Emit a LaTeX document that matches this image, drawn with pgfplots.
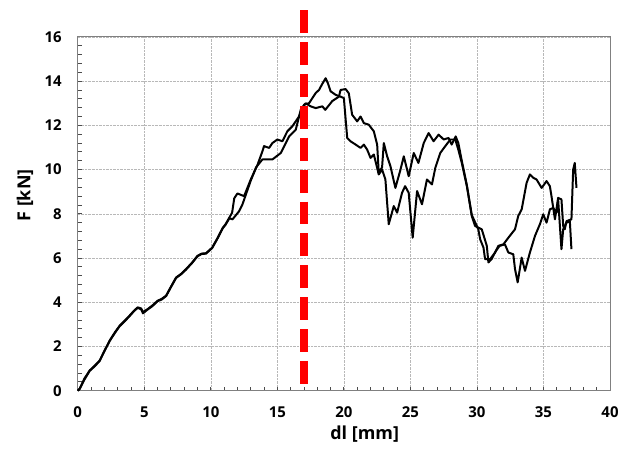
\documentclass[border=0pt]{standalone}
\usepackage{fontspec}
\setmainfont{Open Sans}
\usepackage{pgfplots}
\pgfplotsset{compat=1.18}
\begin{document}
\begin{tikzpicture}
\useasboundingbox (-78pt,-63pt) rectangle (543pt,392pt);
\begin{axis}[
  at={(0pt,0pt)}, anchor=south west,
  scale only axis,
  width=534pt, height=355pt,
  xmin=0, xmax=40, ymin=0, ymax=16,
  xtick={0,5,...,40}, ytick={0,2,...,16},
  minor x tick num=4, minor y tick num=4,
  xtick pos=left, ytick pos=left,
  tick align=inside,
  major tick length=4pt, minor tick length=4pt,
  tick style={black!70, line width=0.8pt},
  axis line style={black!50, line width=1pt},
  grid=major,
  major grid style={densely dotted, black!28, line width=0.6pt},
  /pgf/number format/assume math mode=true,
  ticklabel style={font=\fontsize{15}{17}\selectfont\bfseries},
  yticklabel style={anchor=east, inner sep=0pt, xshift=-16pt},
  xticklabel style={anchor=north, inner sep=0pt, yshift=-15.7pt},
  xlabel={dl [mm]}, ylabel={F [kN]},
  every axis x label/.style={at={(axis description cs:0.539,0)}, yshift=-44pt, anchor=center, font=\fontsize{18}{20}\selectfont\bfseries},
  every axis y label/.style={at={(axis description cs:0,0.552)}, xshift=-53pt, rotate=90, anchor=center, font=\fontsize{18}{20}\selectfont\bfseries},
  clip=false,
]
% curve A
\addplot[black, line width=2pt, line join=round] coordinates {
(0,0) (0.15,0.1) (0.5,0.55) (0.9,0.92) (1.3,1.15) (1.65,1.37) (2.0,1.8) (2.4,2.27) (2.8,2.65) (3.15,2.94) (3.5,3.15) (3.9,3.4) (4.2,3.6) (4.5,3.77) (4.77,3.72) (4.9,3.55) (5.27,3.7) (5.6,3.85) (6.0,4.07) (6.3,4.15) (6.64,4.3) (7.0,4.7) (7.39,5.12) (7.8,5.3) (8.14,5.5) (8.6,5.8) (9.0,6.1) (9.3,6.2) (9.64,6.22) (10.1,6.47) (10.5,6.9) (10.9,7.37) (11.1,7.52) (11.6,8.05)
(11.76,8.7) (12.0,8.92) (12.5,8.8) (13.0,9.55) (13.5,10.2) (13.88,10.83) (14.0,11.06) (14.38,10.98) (14.63,11.2) (15.0,11.36) (15.38,11.28) (15.75,11.73) (16.13,11.96) (16.63,12.4) (17.0,12.93) (17.38,13.0) (17.88,13.46) (18.13,13.6) (18.4,13.9) (18.63,14.13) (18.8,13.9) (19.0,13.54) (19.38,13.38) (19.75,13.3) (20.0,13.23) (20.1,12.5) (20.25,11.43) (20.5,11.28) (20.88,11.13) (21.25,10.98) (21.5,11.13) (21.75,10.9) (22.0,10.53) (22.25,10.68) (22.62,9.78) (22.87,10.0) (23.12,9.55) (23.37,7.53) (23.75,8.35) (24.0,8.05) (24.37,8.95) (24.6,9.25) (24.87,8.95) (25.17,6.92) (25.5,9.03) (25.87,8.43) (26.24,9.55) (26.62,9.33) (26.87,10.08) (27.24,10.75) (27.62,11.06) (28.0,11.36) (28.37,11.36) (28.6,10.9) (28.86,10.3) (29.24,9.25) (29.61,7.9) (29.86,7.45) (30.36,7.3) (30.74,6.55) (30.86,5.8) (31.1,5.95) (31.4,6.3) (31.7,6.55) (32.1,6.62) (32.36,6.25) (32.73,6.17) (32.86,5.5) (33.06,4.9) (33.36,6.02) (33.61,5.42) (33.98,6.25) (34.36,7.0) (34.73,7.53) (34.98,7.98) (35.23,7.6) (35.48,8.2) (35.73,8.27) (35.98,8.05) (36.1,8.65) (36.35,6.4) (36.48,7.3) (36.73,7.6) (36.98,7.67) (37.1,6.4)
};
% curve B
\addplot[black, line width=2pt, line join=round] coordinates {
(0,0) (0.15,0.08) (0.5,0.5) (0.9,0.9) (1.3,1.12) (1.65,1.35) (2.0,1.78) (2.4,2.25) (2.8,2.62) (3.15,2.92) (3.5,3.12) (3.9,3.38) (4.2,3.58) (4.5,3.75) (4.77,3.68) (4.9,3.5) (5.27,3.68) (5.6,3.82) (6.0,4.05) (6.3,4.12) (6.64,4.28) (7.0,4.68) (7.39,5.1) (7.8,5.28) (8.14,5.48) (8.6,5.78) (9.0,6.08) (9.3,6.18) (9.64,6.2) (10.1,6.45) (10.5,6.88) (10.9,7.35) (11.1,7.5) (11.4,7.8)
(11.63,7.75) (12.13,8.12) (12.38,8.43) (13.0,9.5) (13.4,10.1) (13.88,10.46) (14.63,10.46) (15.26,10.75) (15.88,11.5) (16.38,11.8) (16.76,12.71) (17.13,13.0) (17.5,12.86) (17.88,12.78) (18.38,12.86) (18.6,12.7) (19.13,13.1) (19.63,13.3) (19.75,13.6) (20.13,13.64) (20.37,13.45) (20.62,12.48) (21.0,12.18) (21.25,12.4) (21.5,12.1) (21.87,12.03) (22.25,11.73) (22.5,11.13) (22.62,9.85) (22.87,10.1) (23.0,11.2) (23.25,10.6) (23.5,10.15) (23.87,9.17) (24.25,9.99) (24.5,10.6) (24.87,9.7) (25.25,10.75) (25.6,10.3) (26.0,11.2) (26.37,11.65) (26.74,11.28) (27.12,11.58) (27.5,11.36) (27.87,11.43) (28.1,11.13) (28.4,11.5) (28.6,11.2) (28.86,10.4) (29.24,9.3) (29.61,7.95) (30.1,7.3) (30.24,6.85) (30.49,6.47) (30.61,5.95) (30.99,5.95) (31.36,6.25) (31.61,6.55) (31.99,6.62) (32.36,6.92) (32.86,7.3) (33.1,7.9) (33.36,8.2) (33.73,9.4) (33.98,9.78) (34.23,9.63) (34.48,9.55) (34.86,9.17) (35.23,9.48) (35.48,9.25) (35.6,8.8) (35.86,7.75) (36.1,8.72) (36.35,8.65) (36.48,7.45) (36.6,7.3) (36.73,7.67) (37.1,7.75) (37.23,10.0) (37.35,10.3) (37.48,9.17)
};
% red dashed line
\addplot[red, line width=7.5pt, dash pattern=on 23pt off 9pt] coordinates {(17,17.21) (17,0.32)};
\end{axis}
\end{tikzpicture}
\end{document}
